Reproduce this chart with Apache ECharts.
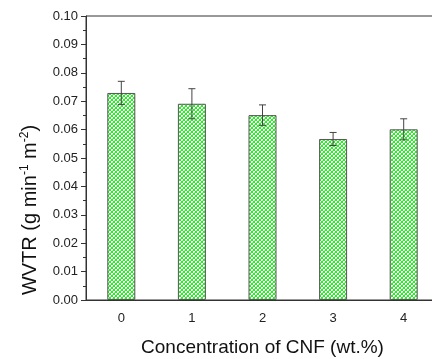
<!DOCTYPE html>
<html>
<head>
<meta charset="utf-8">
<script src="https://cdn.jsdelivr.net/npm/echarts@6/dist/echarts.min.js"></script>
<style>
  html, body { margin: 0; padding: 0; background: #fff; }
  #mybox { width: 432px; height: 359px; }
</style>
</head>
<body>
<div id="mybox"></div>
<script>
// data
var categories = ['0', '1', '2', '3', '4'];
var wvtr = [0.0729, 0.0691, 0.0651, 0.0567, 0.0601];
var wvtrErr = [0.0041, 0.0053, 0.0036, 0.0023, 0.0037];
var yTicks = [0, 0.01, 0.02, 0.03, 0.04, 0.05, 0.06, 0.07, 0.08, 0.09, 0.10];

// green cross-hatch fill like the original plot
function makeHatch() {
    var c = document.createElement('canvas');
    c.width = 4; c.height = 4;
    var ctx = c.getContext('2d');
    ctx.fillStyle = '#ffffff';
    ctx.fillRect(0, 0, 4, 4);
    ctx.fillStyle = '#33e633';
    for (var i = 0; i < 4; i++) {
        ctx.fillRect(i, i, 1, 1);
        ctx.fillRect(3 - i, i, 1, 1);
    }
    ctx.fillStyle = '#a8f0a0';
    ctx.fillRect(2, 0, 1, 1);
    ctx.fillRect(0, 2, 1, 1);
    return c;
}

var errData = categories.map(function (c, i) {
    return [i, wvtr[i] - wvtrErr[i], wvtr[i] + wvtrErr[i]];
});

var mycharts = echarts.init(document.getElementById('mybox'));

var optionObj = {
    animation: false,
    // original figure is cropped on the right, so the plot runs past the edge
    grid: {
        left: 86, top: 16, right: -7, bottom: 59,
        outerBoundsMode: 'none',
        show: true, borderColor: '#333', borderWidth: 1
    },
    xAxis: {
        type: 'category',
        data: categories,
        axisLine: { lineStyle: { color: '#333', width: 1 } },
        axisTick: { alignWithLabel: true, length: 5, lineStyle: { color: '#333' } },
        axisLabel: { color: '#222', fontSize: 13, fontFamily: 'Liberation Sans', margin: 12 },
        name: 'Concentration of CNF (wt.%)',
        nameLocation: 'middle',
        nameGap: 38,
        nameTextStyle: { fontSize: 19, fontFamily: 'Liberation Sans', color: '#111' }
    },
    yAxis: {
        type: 'value',
        min: yTicks[0], max: yTicks[yTicks.length - 1], interval: 0.01,
        splitLine: { show: false },
        axisLine: { show: true, lineStyle: { color: '#333', width: 1 } },
        axisTick: { show: true, length: 5, lineStyle: { color: '#333' } },
        minorTick: { show: true, splitNumber: 2, length: 3, lineStyle: { color: '#333' } },
        axisLabel: {
            color: '#222', fontSize: 13, fontFamily: 'Liberation Sans', margin: 8,
            formatter: function (v) { return v.toFixed(2); }
        }
    },
    graphic: [{
        type: 'text',
        x: 30, y: 210,
        rotation: Math.PI / 2,
        style: {
            text: 'WVTR (g min{sup|-1} m{sup|-2})',
            fontSize: 20,
            fontFamily: 'Liberation Sans',
            fill: '#111',
            align: 'center',
            verticalAlign: 'middle',
            rich: {
                sup: { fontSize: 12, verticalAlign: 'top', padding: [0, 0, 10, 0], fill: '#111' }
            }
        }
    }],
    series: [
        {
            name: 'WVTR',
            type: 'bar',
            data: wvtr,
            barWidth: 28,
            itemStyle: {
                color: { image: makeHatch(), repeat: 'repeat' },
                borderColor: '#555',
                borderWidth: 1
            }
        },
        {
            name: 'err',
            type: 'custom',
            data: errData,
            z: 5,
            renderItem: function (params, api) {
                var x = api.value(0);
                var lo = api.coord([x, api.value(1)]);
                var hi = api.coord([x, api.value(2)]);
                var w = 3.5;
                var st = { stroke: '#444', lineWidth: 1 };
                return {
                    type: 'group',
                    children: [
                        { type: 'line', shape: { x1: hi[0], y1: hi[1], x2: lo[0], y2: lo[1] }, style: st },
                        { type: 'line', shape: { x1: hi[0] - w, y1: hi[1], x2: hi[0] + w, y2: hi[1] }, style: st },
                        { type: 'line', shape: { x1: lo[0] - w, y1: lo[1], x2: lo[0] + w, y2: lo[1] }, style: st }
                    ]
                };
            }
        }
    ]
};

mycharts.setOption(optionObj);
</script>
</body>
</html>
